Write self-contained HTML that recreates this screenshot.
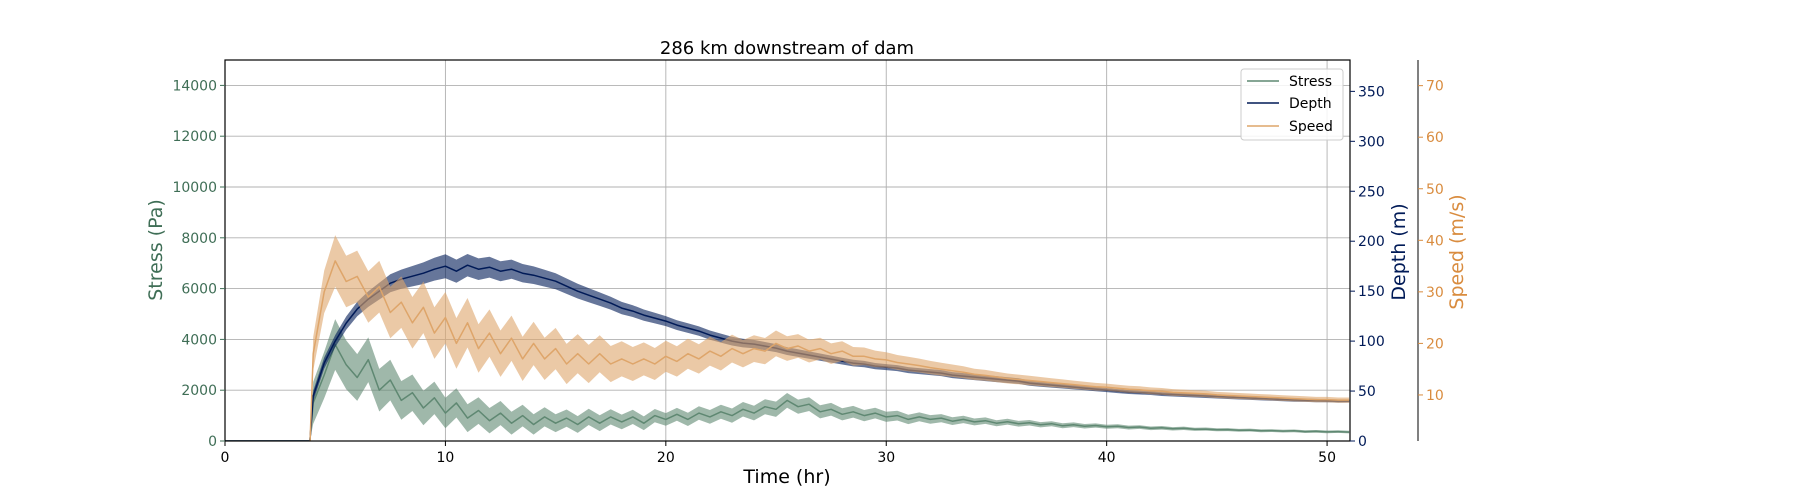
<!DOCTYPE html>
<html><head><meta charset="utf-8"><style>
html,body{margin:0;padding:0;background:#fff;}
svg{display:block;font-family:"DejaVu Sans","Liberation Sans",sans-serif;}
</style></head><body>
<svg id="chart" width="1800" height="504" viewBox="0 0 1800 504" xmlns="http://www.w3.org/2000/svg" style="position:absolute;left:0;top:0">
<defs><clipPath id="plotclip"><rect x="225" y="60" width="1125" height="381"/></clipPath></defs>
<rect width="1800" height="504" fill="#fff"/>
<g id="grid"></g>
<g id="series" clip-path="url(#plotclip)"></g>
<g id="axes"></g>
</svg>
<script>
const times = [0,0.5,1,1.5,2,2.5,3,3.5,3.85,
4,4.5,5,5.5,6,6.5,7,7.5,8,8.5,9,9.5,10,10.5,11,11.5,12,12.5,13,13.5,14,14.5,15,15.5,16,16.5,17,17.5,18,18.5,19,19.5,20,20.5,21,21.5,22,22.5,23,23.5,24,24.5,25,25.5,26,26.5,27,27.5,28,28.5,29,29.5,30,30.5,31,31.5,32,32.5,33,33.5,34,34.5,35,35.5,36,36.5,37,37.5,38,38.5,39,39.5,40,40.5,41,41.5,42,42.5,43,43.5,44,44.5,45,45.5,46,46.5,47,47.5,48,48.5,49,49.5,50,50.5,51];
const stress = [0,0,0,0,0,0,0,0,0,
1500,2600,3800,3000,2500,3200,2000,2400,1600,1900,
1300,1700,1100,1500,900,1200,800,1100,700,1000,
650,950,700,900,650,950,700,950,750,950,
700,1000,850,1050,850,1100,950,1150,1000,1250,
1100,1350,1250,1600,1350,1450,1150,1250,1050,1150,
1000,1100,950,1000,850,950,850,900,780,850,
750,800,700,760,680,720,640,680,600,640,
580,610,560,580,530,550,500,520,480,500,
460,470,440,450,420,430,400,410,390,400,
370,380,360,370,350];
const depth = [0,0,0,0,0,0,0,0,0,
45,78,100,118,132,142,150,158,162,165,
168,172,175,170,176,172,174,170,172,168,
166,163,160,155,150,146,142,138,133,130,
126,123,120,116,113,110,106,103,100,98,
97,95,93,90,88,86,84,82,80,78,
77,75,74,73,71,70,69,68,66,65,
64,63,62,61,60,58,57,56,55,54,
53,52,51,50,49,48.5,48,47,46.5,46,
45.5,45,44.5,44,43.5,43,42.5,42,41.5,41,
40.8,40.5,40.3,40,40];
const speed = [0,0,0,0,0,0,0,0,0,
18,30,36,32,33,29,31,26,28,24,
27,22,25,20,24,19,22,18,21,17,
20,17,19,16,18,16,18,16,17,16,
17,16,17.5,16.5,18,17,18.5,17.5,19,18,
19,18.5,20,19,19.5,18.5,19,18,18.5,17.5,
17.5,17,16.8,16.3,16,15.7,15.3,15,14.7,14.4,
14,13.8,13.5,13.2,13,12.8,12.6,12.4,12.2,12,
11.8,11.6,11.5,11.3,11.1,11,10.8,10.7,10.5,10.4,
10.3,10.2,10,9.9,9.8,9.7,9.6,9.5,9.4,9.3,
9.2,9.1,9.1,9,9];
// noise half-widths (fluctuation envelope) at coarse times
const bandTimes = [3.85,5,10,15,20,25,30,35,40,45,51];
const stressNoise = [800,1000,600,350,250,300,200,120,80,60,50];
const depthNoise = [5,6,12,8,5,4,3,3,2,2,1.5];
const speedNoise = [3,5,5,4,3,2.5,1.5,1,0.7,0.6,0.5];
const xTicks = [0,10,20,30,40,50];
const stressTicks = [0,2000,4000,6000,8000,10000,12000,14000];
const depthTicks = [0,50,100,150,200,250,300,350];
const speedTicks = [10,20,30,40,50,60,70];

const L=225,R=1350,T=60,B=441;
const X=v=>L+(v/51.04)*(R-L);
const YS=v=>B-(v/15000)*(B-T);
const YD=v=>B-(v/381.4)*(B-T);
const YV=v=>446.5-5.155*v;
const NS='http://www.w3.org/2000/svg';
function mk(tag,attrs,parent,text){const e=document.createElementNS(NS,tag);for(const k in attrs)e.setAttribute(k,attrs[k]);if(text!==undefined)e.textContent=text;parent.appendChild(e);return e;}
const grid=document.getElementById('grid'),ser=document.getElementById('series'),ax=document.getElementById('axes');
function noiseAt(arr,t){if(t<bandTimes[0])return 0;for(let i=0;i<bandTimes.length-1;i++){if(t<=bandTimes[i+1]){const f=(t-bandTimes[i])/(bandTimes[i+1]-bandTimes[i]);return arr[i]+f*(arr[i+1]-arr[i]);}}return arr[arr.length-1];}

xTicks.forEach(t=>{const g=mk('line',{x1:X(t),x2:X(t),y1:T,y2:B,stroke:'#b0b0b0','stroke-width':0.9},grid);

});
stressTicks.forEach(t=>{const g=mk('line',{x1:L,x2:R,y1:YS(t),y2:YS(t),stroke:'#b0b0b0','stroke-width':0.9},grid);

});

function band(vals,noise,yf,color,name){
const up=[],dn=[];
vals.forEach((v,i)=>{const n=v>0?noiseAt(noise,times[i]):0;up.push(X(times[i]).toFixed(1)+','+yf(v+n).toFixed(1));dn.unshift(X(times[i]).toFixed(1)+','+yf(Math.max(0,v-n)).toFixed(1));});
const p=mk('polygon',{points:up.concat(dn).join(' '),fill:color,'fill-opacity':0.6,stroke:'none'},ser);

}
function line(vals,yf,color,name){const d=vals.map((v,i)=>(i?'L':'M')+X(times[i]).toFixed(1)+','+yf(v).toFixed(1)).join('');
const p=mk('path',{d:d,fill:'none',stroke:color,'stroke-width':1.5,'stroke-linejoin':'round'},ser);

}
band(stress,stressNoise,YS,'#5f8872','stress-band');
line(stress,YS,'#5f8872','stress-line');
band(depth,depthNoise,YD,'#001a57','depth-band');
line(depth,YD,'#001a57','depth-line');
band(speed,speedNoise,YV,'#dea56a','speed-band');
line(speed,YV,'#dea56a','speed-line');

const frame=mk('rect',{x:L,y:T,width:R-L,height:B-T,fill:'none',stroke:'#000','stroke-width':1.2},ax);



xTicks.forEach(t=>{mk('line',{x1:X(t),x2:X(t),y1:B,y2:B+5,stroke:'#000'},ax);
const tx=mk('text',{x:X(t),y:B+21,'text-anchor':'middle','font-size':14,fill:'#000'},ax,String(t));

});
stressTicks.forEach(t=>{mk('line',{x1:L-5,x2:L,y1:YS(t),y2:YS(t),stroke:'#3f6e56'},ax);
const tx=mk('text',{x:L-8,y:YS(t)+5,'text-anchor':'end','font-size':14,fill:'#3f6e56'},ax,String(t));

});
depthTicks.forEach(t=>{mk('line',{x1:R,x2:R+5,y1:YD(t),y2:YD(t),stroke:'#001a57'},ax);
const tx=mk('text',{x:R+8,y:YD(t)+5,'font-size':14,fill:'#001a57'},ax,String(t));

});
const sp=mk('line',{x1:1418,x2:1418,y1:T,y2:B,stroke:'#000','stroke-width':1},ax);


speedTicks.forEach(t=>{mk('line',{x1:1418,x2:1423,y1:YV(t),y2:YV(t),stroke:'#d98c3f'},ax);
const tx=mk('text',{x:1426,y:YV(t)+5,'font-size':14,fill:'#d98c3f'},ax,String(t));

});
</script>
<svg style="position:absolute;left:0;top:0" width="1800" height="504" xmlns="http://www.w3.org/2000/svg">
<text x="787" y="54" text-anchor="middle" font-size="18" fill="#000">286 km downstream of dam</text>
<text x="787" y="483" text-anchor="middle" font-size="19" fill="#000">Time (hr)</text>
<text transform="translate(162,250) rotate(-90)" text-anchor="middle" font-size="19" fill="#3f6e56">Stress (Pa)</text>
<text transform="translate(1405,252) rotate(-90)" text-anchor="middle" font-size="19" fill="#001a57">Depth (m)</text>
<text transform="translate(1463,252) rotate(-90)" text-anchor="middle" font-size="19" fill="#d98c3f">Speed (m/s)</text>
<g font-size="14">
<rect x="1241" y="69" width="102" height="71" rx="3" fill="#fff" fill-opacity="0.85" stroke="#ccc"/>
<line x1="1247" x2="1279" y1="81" y2="81" stroke="#5f8872" stroke-width="1.5"/>
<text x="1289" y="86">Stress</text>
<line x1="1247" x2="1279" y1="103" y2="103" stroke="#001a57" stroke-width="1.5"/>
<text x="1289" y="108">Depth</text>
<line x1="1247" x2="1279" y1="126" y2="126" stroke="#dea56a" stroke-width="1.5"/>
<text x="1289" y="131">Speed</text>
</g>
</svg>
</body></html>
